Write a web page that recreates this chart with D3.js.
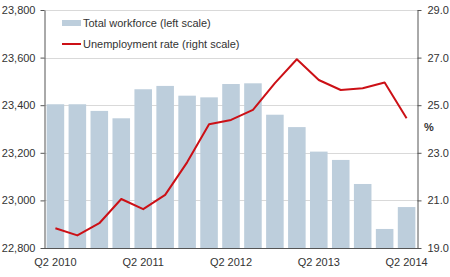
<!DOCTYPE html>
<html lang="en">
<head>
<meta charset="UTF-8">
<title>Workforce and unemployment</title>
<script src="https://d3js.org/d3.v7.min.js"></script>
<style>
  body { margin: 0; background: #fff; }
  svg text { font-family: "Liberation Sans", Arial, sans-serif; font-size: 11px; fill: #333; }
</style>
</head>
<body>
<div id="chart"></div>
<script>
// quarters Q2 2010 .. Q2 2014
var quarters = ["Q2 2010","Q3 2010","Q4 2010","Q1 2011","Q2 2011","Q3 2011","Q4 2011","Q1 2012",
  "Q2 2012","Q3 2012","Q4 2012","Q1 2013","Q2 2013","Q3 2013","Q4 2013","Q1 2014","Q2 2014"];
var workforce = [23404, 23404, 23376, 23345, 23467, 23481, 23440, 23433,
  23489, 23492, 23360, 23308, 23205, 23170, 23069, 22880, 22972];
var unemployment = [19.83, 19.53, 20.04, 21.06, 20.63, 21.23, 22.6, 24.2,
  24.38, 24.8, 25.93, 26.93, 26.06, 25.64, 25.71, 25.95, 24.45];
var leftTicks = [22800, 23000, 23200, 23400, 23600, 23800];
var rightTicks = [19, 21, 23, 25, 27, 29];
var xLabels = ["Q2 2010","Q2 2011","Q2 2012","Q2 2013","Q2 2014"];

var W = 450, H = 277;
var plot = {left: 44, right: 418, top: 10, bottom: 248};

var svg = d3.select("#chart").append("svg")
    .attr("width", W).attr("height", H);

var x = d3.scaleBand().domain(quarters).range([plot.left, plot.right])
    .paddingInner(0.2).paddingOuter(0.12);
var yL = d3.scaleLinear().domain([22800, 23800]).range([plot.bottom, plot.top]);
var yR = d3.scaleLinear().domain([19, 29]).range([plot.bottom, plot.top]);

// gridlines (incl. top)
svg.append("g").selectAll("line")
    .data(leftTicks.slice(1)).enter().append("line")
    .attr("x1", plot.left).attr("x2", plot.right)
    .attr("y1", d => Math.round(yL(d)) + 0.5).attr("y2", d => Math.round(yL(d)) + 0.5)
    .attr("stroke", "#d9d9d9");

// bars
svg.append("g").selectAll("rect")
    .data(workforce).enter().append("rect")
    .attr("x", (d, i) => x(quarters[i]))
    .attr("width", x.bandwidth())
    .attr("y", d => yL(d))
    .attr("height", d => plot.bottom - yL(d))
    .attr("fill", "#bdcedc");

// unemployment line
var line = d3.line()
    .x((d, i) => x(quarters[i]) + x.bandwidth() / 2)
    .y(d => yR(d));
svg.append("path").datum(unemployment)
    .attr("d", line)
    .attr("fill", "none")
    .attr("stroke", "#cc1016")
    .attr("stroke-width", 2)
    .attr("stroke-linejoin", "round");

// axes
var axL = svg.append("g").attr("transform", "translate(" + (plot.left + 0.5) + ",0)")
    .call(d3.axisLeft(yL).tickValues(leftTicks).tickSize(4).tickSizeOuter(0).tickPadding(5)
        .tickFormat(d3.format(",")));
var axR = svg.append("g").attr("transform", "translate(" + (plot.right - 0.5) + ",0)")
    .call(d3.axisRight(yR).tickValues(rightTicks).tickSize(4).tickSizeOuter(0).tickPadding(6)
        .tickFormat(d3.format(".1f")));
[axL, axR].forEach(function(a) {
  a.attr("font-size", null).attr("font-family", null);
  a.select(".domain").attr("stroke", "#555");
  a.selectAll(".tick line").attr("stroke", "#555");
});

// bottom axis line
svg.append("line")
    .attr("x1", plot.left).attr("x2", plot.right)
    .attr("y1", plot.bottom + 0.5).attr("y2", plot.bottom + 0.5)
    .attr("stroke", "#555");

svg.append("g").selectAll("text")
    .data(xLabels).enter().append("text")
    .attr("x", d => x(d) + x.bandwidth() / 2)
    .attr("y", 266)
    .attr("text-anchor", "middle")
    .text(d => d);

// % unit label
svg.append("text")
    .attr("x", 424).attr("y", 131)
    .attr("font-weight", "bold")
    .text("%");

// legend
var lg = svg.append("g");
lg.append("rect").attr("x", 62).attr("y", 20).attr("width", 19).attr("height", 6)
    .attr("fill", "#bdcedc");
lg.append("text").attr("x", 83).attr("y", 27).text("Total workforce (left scale)");
lg.append("line").attr("x1", 62).attr("x2", 81).attr("y1", 44).attr("y2", 44)
    .attr("stroke", "#cc1016").attr("stroke-width", 2);
lg.append("text").attr("x", 83).attr("y", 48).text("Unemployment rate (right scale)");
</script>
</body>
</html>
